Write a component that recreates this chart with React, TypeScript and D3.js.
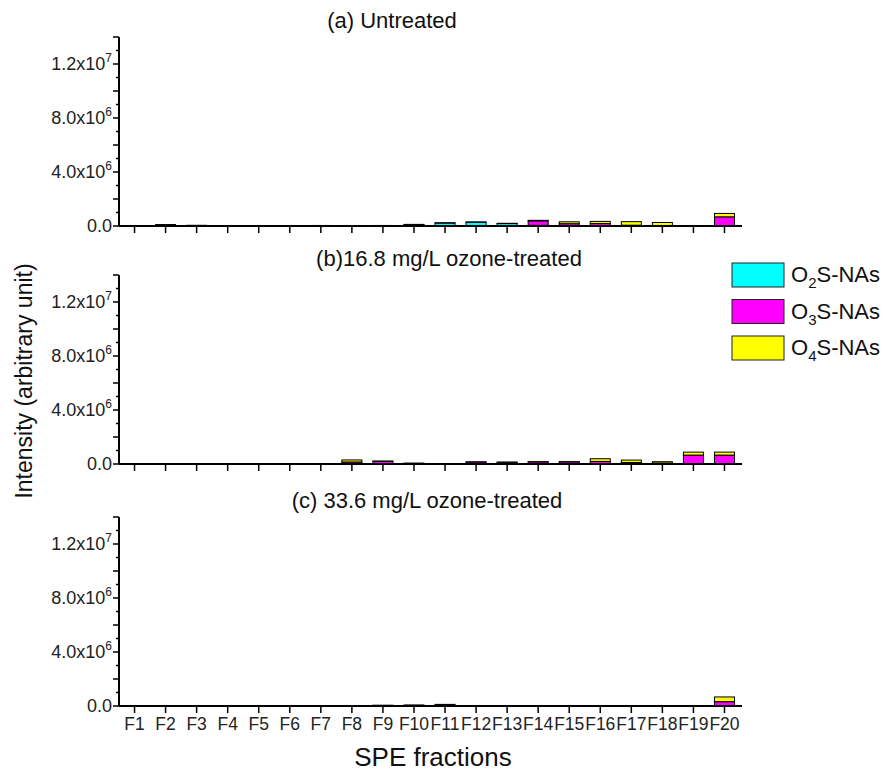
import * as d3 from "d3";
import { useEffect, useRef } from "react";

// fractions and stacked series (values in arbitrary units)
const fractions = ["F1","F2","F3","F4","F5","F6","F7","F8","F9","F10","F11","F12","F13","F14","F15","F16","F17","F18","F19","F20"];
const seriesNames = ["O2S", "O3S", "O4S"];
const seriesColors = ["#00ffff", "#ff00ff", "#ffff00"];
const seriesSubs = ["2", "3", "4"];

// (a) Untreated
const untreatedO2 = [0,0.01e6,0.02e6,0,0,0,0.02e6,0,0.03e6,0.1e6,0.22e6,0.28e6,0.18e6,0.05e6,0.02e6,0.02e6,0.01e6,0.01e6,0.01e6,0.03e6];
const untreatedO3 = [0,0.02e6,0.02e6,0,0,0,0.01e6,0,0.01e6,0.02e6,0.02e6,0.02e6,0.02e6,0.33e6,0.15e6,0.16e6,0.05e6,0.03e6,0.01e6,0.65e6];
const untreatedO4 = [0,0.08e6,0.01e6,0,0,0,0.01e6,0,0,0,0,0,0,0.04e6,0.14e6,0.16e6,0.26e6,0.22e6,0,0.25e6];
// (b) 16.8 mg/L
const ozone168O2 = [0,0,0,0,0,0,0,0.03e6,0.02e6,0.03e6,0,0.01e6,0.01e6,0.01e6,0.01e6,0.01e6,0.01e6,0.02e6,0.01e6,0.01e6];
const ozone168O3 = [0,0,0,0,0,0,0,0.12e6,0.18e6,0.04e6,0,0.14e6,0.12e6,0.15e6,0.15e6,0.18e6,0.1e6,0.05e6,0.65e6,0.65e6];
const ozone168O4 = [0,0,0,0,0,0,0,0.15e6,0.02e6,0,0,0.01e6,0.01e6,0.01e6,0.01e6,0.2e6,0.18e6,0.1e6,0.22e6,0.22e6];
// (c) 33.6 mg/L
const ozone336O2 = [0,0,0,0,0,0,0,0,0.03e6,0,0.06e6,0.01e6,0.01e6,0,0,0,0,0.01e6,0,0.02e6];
const ozone336O3 = [0,0,0,0,0,0,0,0,0.03e6,0.02e6,0.06e6,0.01e6,0.01e6,0,0,0,0,0.01e6,0,0.3e6];
const ozone336O4 = [0,0,0,0,0,0,0,0,0,0.06e6,0,0.01e6,0.01e6,0,0,0,0,0.01e6,0,0.35e6];

const panelTitles = ["(a) Untreated", "(b)16.8 mg/L ozone-treated", "(c) 33.6 mg/L ozone-treated"];
const panelTitleX = [392, 449, 427];
const panelData = [
  [untreatedO2, untreatedO3, untreatedO4],
  [ozone168O2, ozone168O3, ozone168O4],
  [ozone336O2, ozone336O3, ozone336O4],
];
const yMajorTicks = [0, 4e6, 8e6, 1.2e7];
const yMajorLabels = [["0.0", ""], ["4.0x10", "6"], ["8.0x10", "6"], ["1.2x10", "7"]];

const App = () => {
  const ref = useRef<SVGSVGElement>(null);

  useEffect(() => {
    const svg = d3.select(ref.current);
    svg.selectAll("*").remove();
    const font = "Liberation Sans, Arial, sans-serif";

    const x = d3.scaleLinear().domain([0.5, 20.5]).range([119, 740]);
    const barW = 20;
    const zeros = [226, 464, 706];

    panelData.forEach((series, p) => {
      const y = d3.scaleLinear().domain([0, 1.4e7]).range([zeros[p], zeros[p] - 189]);
      const g = svg.append("g");

      const rows = fractions.map((f, i) => ({
        f, i, O2S: series[0][i], O3S: series[1][i], O4S: series[2][i],
      }));
      const stacked = d3.stack<any>().keys(seriesNames)(rows);

      stacked.forEach((layer, k) => {
        g.selectAll(null)
          .data(layer)
          .enter()
          .append("rect")
          .attr("x", (d: any) => x(d.data.i + 1) - barW / 2)
          .attr("width", barW)
          .attr("y", (d) => y(d[1]))
          .attr("height", (d) => Math.max(0, y(d[0]) - y(d[1])))
          .attr("fill", seriesColors[k])
          .attr("stroke", "#000")
          .attr("stroke-width", 1);
      });

      // y axis
      const yAxis = g.append("g").attr("transform", `translate(${x.range()[0]},0)`);
      yAxis.append("line")
        .attr("x1", 0).attr("x2", 0)
        .attr("y1", y(1.4e7)).attr("y2", y(0))
        .attr("stroke", "#000").attr("stroke-width", 2);
      d3.range(0, 15).forEach((m) => {
        const v = m * 1e6;
        const major = m % 2 === 0;
        yAxis.append("line")
          .attr("x1", major ? -6 : -3).attr("x2", 0)
          .attr("y1", y(v)).attr("y2", y(v))
          .attr("stroke", "#000").attr("stroke-width", 1.5);
      });
      yMajorTicks.forEach((v, i) => {
        const t = yAxis.append("text")
          .attr("x", -7).attr("y", y(v) + 6)
          .attr("text-anchor", "end")
          .attr("font-family", font).attr("font-size", 18).attr("fill", "#222");
        if (yMajorLabels[i][1]) {
          t.append("tspan").text(yMajorLabels[i][0]);
          t.append("tspan").attr("dy", -8).attr("font-size", 12).text(yMajorLabels[i][1]);
        } else {
          t.text(yMajorLabels[i][0]);
        }
      });

      // x axis
      g.append("line")
        .attr("x1", x.range()[0]).attr("x2", x.range()[1] + 2)
        .attr("y1", y(0)).attr("y2", y(0))
        .attr("stroke", "#000").attr("stroke-width", 2);
      fractions.forEach((f, i) => {
        g.append("line")
          .attr("x1", x(i + 1)).attr("x2", x(i + 1))
          .attr("y1", y(0)).attr("y2", y(0) + 7)
          .attr("stroke", "#000").attr("stroke-width", 1.5);
      });
      if (p === 2) {
        fractions.forEach((f, i) => {
          g.append("text")
            .attr("x", x(i + 1)).attr("y", y(0) + 24)
            .attr("text-anchor", "middle")
            .attr("font-family", font).attr("font-size", 17.5).attr("fill", "#222")
            .text(f);
        });
      }

      g.append("text")
        .attr("x", panelTitleX[p]).attr("y", zeros[p] - 198)
        .attr("text-anchor", "middle")
        .attr("font-family", font).attr("font-size", 22).attr("fill", "#111")
        .text(panelTitles[p]);
    });

    // axis titles
    svg.append("text")
      .attr("x", 433).attr("y", 766)
      .attr("text-anchor", "middle")
      .attr("font-family", font).attr("font-size", 26).attr("fill", "#111")
      .text("SPE fractions");
    svg.append("text")
      .attr("transform", "translate(32,381) rotate(-90)")
      .attr("text-anchor", "middle")
      .attr("font-family", font).attr("font-size", 23).attr("fill", "#111")
      .text("Intensity (arbitrary unit)");

    // legend
    const legend = svg.append("g");
    seriesNames.forEach((s, k) => {
      const ly = 263 + k * 36.5;
      legend.append("rect")
        .attr("x", 732).attr("y", ly).attr("width", 52).attr("height", 24)
        .attr("fill", seriesColors[k]).attr("stroke", "#222").attr("stroke-width", 1);
      const t = legend.append("text")
        .attr("x", 791).attr("y", ly + 19)
        .attr("font-family", font).attr("font-size", 22).attr("fill", "#111");
      t.append("tspan").text("O");
      t.append("tspan").attr("dy", 6).attr("font-size", 15).text(seriesSubs[k]);
      t.append("tspan").attr("dy", -6).text("S-NAs");
    });
  }, []);

  return (
    <svg
      ref={ref}
      width={891}
      height={773}
      style={{ position: "absolute", left: 0, top: 0, background: "#fff" }}
    />
  );
};

export default App;
